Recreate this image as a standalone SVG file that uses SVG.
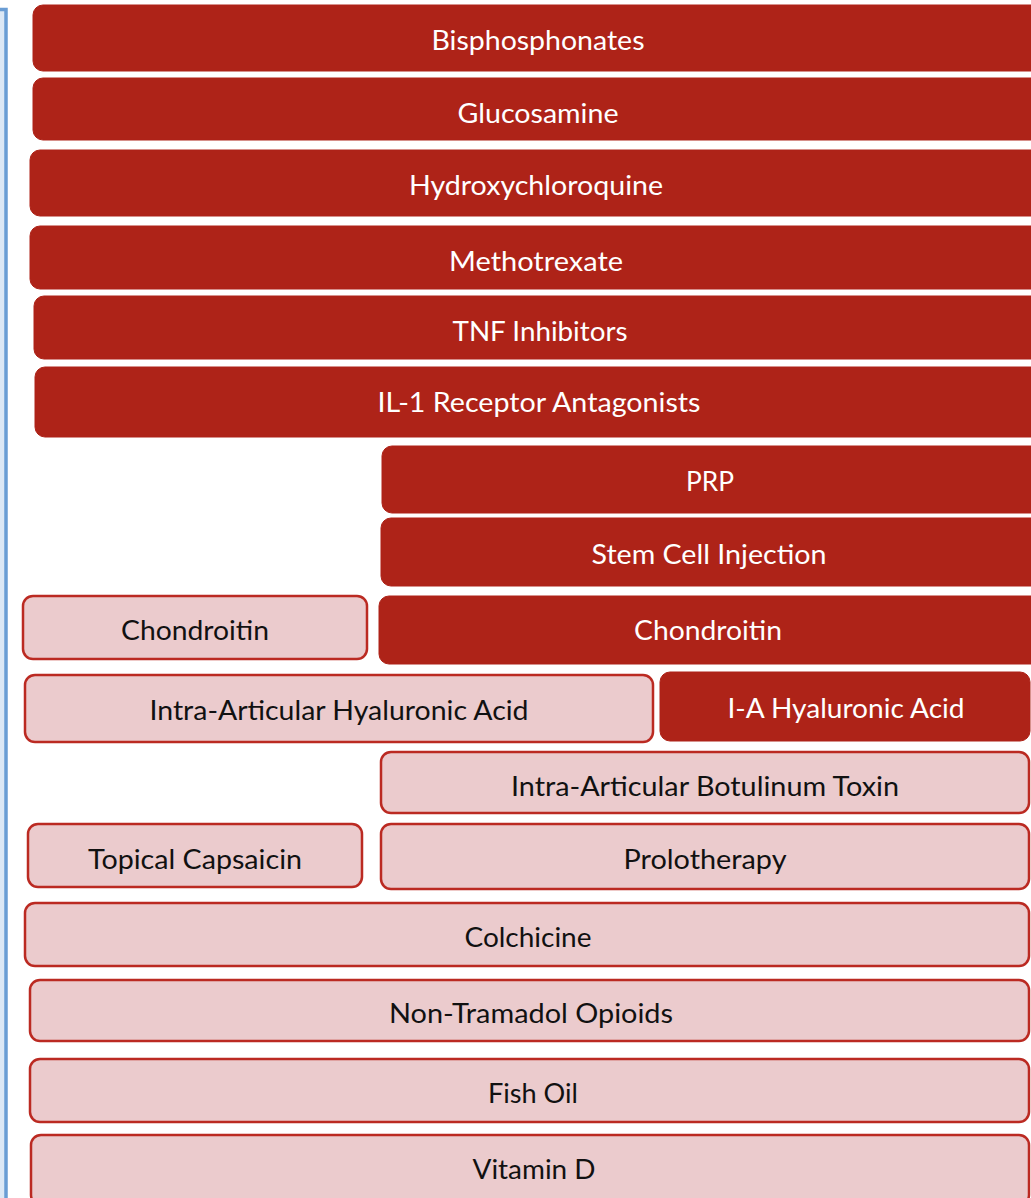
<svg xmlns="http://www.w3.org/2000/svg" width="1031" height="1198" viewBox="0 0 1031 1198">
<style>
.red rect{fill:#AE2318;stroke:#AE2318;stroke-width:1}
.pink rect{fill:#EBCBCD;stroke:#BB2A22;stroke-width:2.5}
text{font-family:Lato,"Open Sans","Liberation Sans",sans-serif;font-size:26px;text-anchor:middle}
.red text{fill:#ffffff}
.pink text{fill:#111111}
</style>
<rect width="1031" height="1198" fill="#ffffff"/>
<rect x="0" y="10" width="5" height="1188" fill="#DCE8F5"/>
<path d="M0 9.5 H6 V1198" fill="none" stroke="#6A9DD4" stroke-width="3.5"/>
<g class="red">
<g id="bisphosphonates"><rect x="33" y="5" width="1020" height="66" rx="10"/><text x="538" y="50" textLength="213" lengthAdjust="spacingAndGlyphs">Bisphosphonates</text></g>
<g id="glucosamine"><rect x="33" y="78" width="1020" height="62" rx="10"/><text x="538" y="123" textLength="161" lengthAdjust="spacingAndGlyphs">Glucosamine</text></g>
<g id="hydroxychloroquine"><rect x="30" y="150" width="1020" height="66" rx="10"/><text x="536" y="195" textLength="254" lengthAdjust="spacingAndGlyphs">Hydroxychloroquine</text></g>
<g id="methotrexate"><rect x="30" y="226" width="1020" height="63" rx="10"/><text x="536" y="271" textLength="174" lengthAdjust="spacingAndGlyphs">Methotrexate</text></g>
<g id="tnf"><rect x="34" y="296" width="1020" height="63" rx="10"/><text x="540" y="341" textLength="175" lengthAdjust="spacingAndGlyphs">TNF Inhibitors</text></g>
<g id="il1"><rect x="35" y="367" width="1020" height="70" rx="10"/><text x="539" y="412" textLength="323" lengthAdjust="spacingAndGlyphs">IL-1 Receptor Antagonists</text></g>
<g id="prp"><rect x="382" y="446" width="670" height="67" rx="10"/><text x="710" y="491" textLength="48" lengthAdjust="spacingAndGlyphs">PRP</text></g>
<g id="stemcell"><rect x="381" y="518" width="670" height="68" rx="10"/><text x="709" y="564" textLength="235" lengthAdjust="spacingAndGlyphs">Stem Cell Injection</text></g>
<g id="chondroitin-red"><rect x="379" y="596" width="670" height="68" rx="10"/><text x="708" y="640" textLength="148" lengthAdjust="spacingAndGlyphs">Chondroitin</text></g>
<g id="ia-hyaluronic-red"><rect x="660" y="672" width="370" height="69" rx="10"/><text x="846" y="718" textLength="237" lengthAdjust="spacingAndGlyphs">I-A Hyaluronic Acid</text></g>
</g>
<g class="pink">
<g id="chondroitin-pink"><rect x="23" y="596" width="344" height="63" rx="10"/><text x="195" y="640" textLength="148" lengthAdjust="spacingAndGlyphs">Chondroitin</text></g>
<g id="ia-hyaluronic-pink"><rect x="25" y="675" width="628" height="67" rx="10"/><text x="339" y="720" textLength="379" lengthAdjust="spacingAndGlyphs">Intra-Articular Hyaluronic Acid</text></g>
<g id="botulinum"><rect x="381" y="752" width="648" height="61" rx="10"/><text x="705" y="796" textLength="388" lengthAdjust="spacingAndGlyphs">Intra-Articular Botulinum Toxin</text></g>
<g id="capsaicin"><rect x="28" y="824" width="334" height="63" rx="10"/><text x="195" y="869" textLength="214" lengthAdjust="spacingAndGlyphs">Topical Capsaicin</text></g>
<g id="prolotherapy"><rect x="381" y="824" width="648" height="65" rx="10"/><text x="705" y="869" textLength="163" lengthAdjust="spacingAndGlyphs">Prolotherapy</text></g>
<g id="colchicine"><rect x="25" y="903" width="1004" height="63" rx="10"/><text x="528" y="947" textLength="127" lengthAdjust="spacingAndGlyphs">Colchicine</text></g>
<g id="opioids"><rect x="30" y="980" width="999" height="61" rx="10"/><text x="531" y="1023" textLength="284" lengthAdjust="spacingAndGlyphs">Non-Tramadol Opioids</text></g>
<g id="fishoil"><rect x="30" y="1059" width="999" height="63" rx="10"/><text x="533" y="1103" textLength="90" lengthAdjust="spacingAndGlyphs">Fish Oil</text></g>
<g id="vitamind"><rect x="31" y="1135" width="998" height="70" rx="10"/><text x="534" y="1179" textLength="123" lengthAdjust="spacingAndGlyphs">Vitamin D</text></g>
</g>
<g id="connectors"></g>
</svg>
